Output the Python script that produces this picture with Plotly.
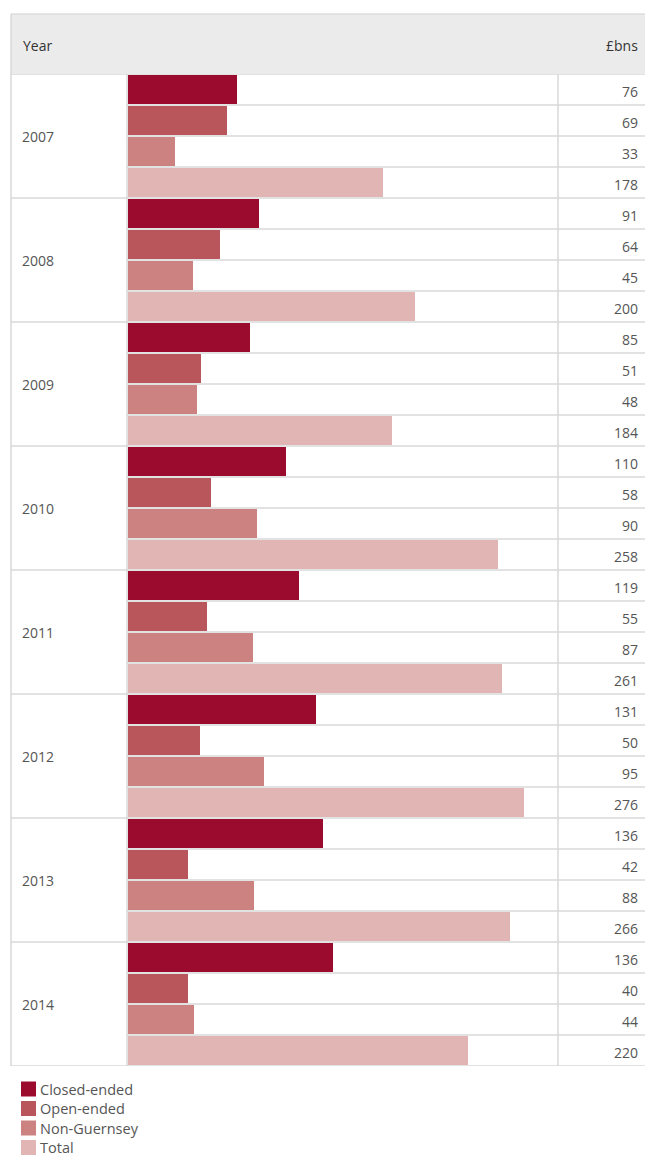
import plotly.graph_objects as go

W, H = 645, 1157

years = ["2007", "2008", "2009", "2010", "2011", "2012", "2013", "2014"]
series = ["Closed-ended", "Open-ended", "Non-Guernsey", "Total"]
colors = ["#9a0b2e", "#b9565c", "#cb8280", "#e1b5b3"]

# displayed values (£bns)
closed_lbl = [76, 91, 85, 110, 119, 131, 136, 136]
open_lbl = [69, 64, 51, 58, 55, 50, 42, 40]
nong_lbl = [33, 45, 48, 90, 87, 95, 88, 44]
total_lbl = [178, 200, 184, 258, 261, 276, 266, 220]

# bar lengths as drawn in the picture (2014 bars are drawn slightly longer than labels)
closed_bar = [76, 91, 85, 110, 119, 131, 136, 143]
open_bar = [69, 64, 51, 58, 55, 50, 42, 42]
nong_bar = [33, 45, 48, 90, 87, 95, 88, 46]
total_bar = [178, 200, 184, 258, 261, 276, 266, 237]

bars = [closed_bar, open_bar, nong_bar, total_bar]
labels = [closed_lbl, open_lbl, nong_lbl, total_lbl]

def px_x(x):
    return x / W

def px_y(y):
    return 1 - y / H

TOP, BOT = 74, 1066
BAR_L, VAL_L = 128, 558
LEFT = 11
nrows = len(years) * 4

fig = go.Figure()
for k, name in enumerate(series):
    fig.add_trace(go.Bar(
        x=bars[k],
        y=[4 * i + k for i in range(len(years))],
        orientation="h",
        name=name,
        marker=dict(color=colors[k], line=dict(width=0)),
        width=0.94,
        hoverinfo="skip",
        showlegend=False,
    ))

shapes = []
line_col = "#d9d9d9"
# header background
shapes.append(dict(type="rect", xref="paper", yref="paper",
                   x0=px_x(LEFT), x1=1, y0=px_y(TOP), y1=px_y(14),
                   fillcolor="#ebebeb", line=dict(width=0), layer="below"))
shapes.append(dict(type="line", xref="paper", yref="paper",
                   x0=px_x(LEFT), x1=1, y0=px_y(14), y1=px_y(14),
                   line=dict(color="#dcdcdc", width=1.5)))
# row lines
for r in range(nrows + 1):
    yv = r - 0.5
    if r % 4 == 0:
        x0 = px_x(LEFT)
    else:
        x0 = px_x(BAR_L - 1)
    shapes.append(dict(type="line", xref="paper", yref="y",
                       x0=x0, x1=1, y0=yv, y1=yv,
                       line=dict(color=line_col, width=1.5), layer="above"))
# vertical lines
for xv in [LEFT, BAR_L - 1, VAL_L]:
    shapes.append(dict(type="line", xref="paper", yref="paper",
                       x0=px_x(xv), x1=px_x(xv), y0=px_y(BOT), y1=px_y(TOP if xv != LEFT else 14),
                       line=dict(color=line_col, width=1.5), layer="above"))

txt = "#555555"
font_name = "Open Sans"
annotations = [
    dict(text="Year", xref="paper", yref="paper", x=px_x(21), y=px_y(45),
         xanchor="left", yanchor="middle", showarrow=False,
         font=dict(family=font_name, size=14, color="#333333")),
    dict(text="£bns", xref="paper", yref="paper", x=px_x(640), y=px_y(45),
         xanchor="right", yanchor="middle", showarrow=False,
         font=dict(family=font_name, size=14, color="#333333")),
]
for i, yr in enumerate(years):
    annotations.append(dict(text=yr, xref="paper", yref="y", x=px_x(20), y=4 * i + 1.5,
                            xanchor="left", yanchor="middle", showarrow=False,
                            font=dict(family=font_name, size=14, color=txt)))
    for k in range(4):
        annotations.append(dict(text=str(labels[k][i]), xref="paper", yref="y",
                                x=px_x(640), y=4 * i + k + 0.05,
                                xanchor="right", yanchor="middle", showarrow=False,
                                font=dict(family=font_name, size=14, color=txt)))

# custom legend
for k, name in enumerate(series):
    yc = 1089 + 19.5 * k
    shapes.append(dict(type="rect", xref="paper", yref="paper",
                       x0=px_x(21), x1=px_x(36), y0=px_y(yc + 7.5), y1=px_y(yc - 7.5),
                       fillcolor=colors[k], line=dict(width=0)))
    annotations.append(dict(text=name, xref="paper", yref="paper", x=px_x(38), y=px_y(yc),
                            xanchor="left", yanchor="middle", showarrow=False,
                            font=dict(family=font_name, size=14.5, color=txt)))

fig.update_layout(
    width=W, height=H, autosize=False,
    margin=dict(l=0, r=0, t=0, b=0),
    paper_bgcolor="white", plot_bgcolor="white",
    barmode="overlay", bargap=0,
    xaxis=dict(domain=[px_x(BAR_L), px_x(VAL_L)], range=[0, 299.7],
               showgrid=False, zeroline=False, showticklabels=False, fixedrange=True),
    yaxis=dict(domain=[px_y(BOT), px_y(TOP)], range=[nrows - 0.5, -0.5],
               showgrid=False, zeroline=False, showticklabels=False, fixedrange=True),
    shapes=shapes,
    annotations=annotations,
    showlegend=False,
)

fig.write_html("out.html")
